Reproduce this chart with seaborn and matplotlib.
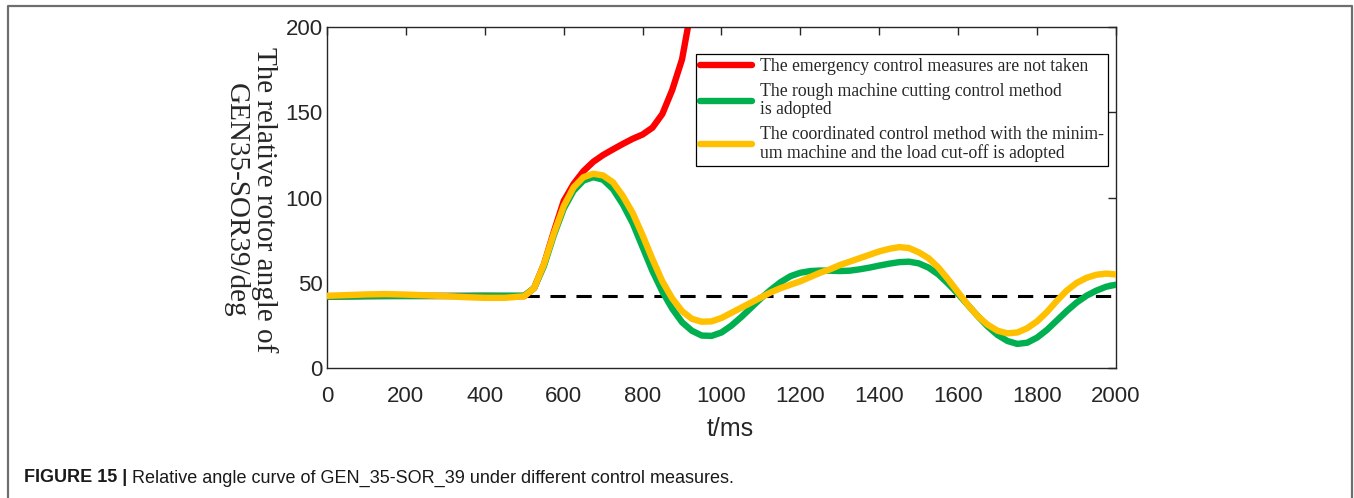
import numpy as np
import pandas as pd
import matplotlib
matplotlib.use("Agg")
import matplotlib.pyplot as plt
import seaborn as sns

# time axis (ms) for the two controlled cases
t = [0, 50, 100, 150, 200, 250, 300, 350, 400, 450, 500,
     525, 550, 575, 600, 625, 650, 675, 700, 725, 750, 775, 800, 825, 850, 875,
     900, 925, 950, 975, 1000, 1025, 1050, 1075, 1100, 1125, 1150, 1175, 1200,
     1225, 1250, 1275, 1300, 1325, 1350, 1375, 1400, 1425, 1450, 1475, 1500,
     1525, 1550, 1575, 1600, 1625, 1650, 1675, 1700, 1725, 1750, 1775, 1800,
     1825, 1850, 1875, 1900, 1925, 1950, 1975, 2000]

green = [42.0, 42.1, 42.3, 42.4, 42.4, 42.4, 42.4, 42.4, 42.5, 42.5, 42.6,
         47, 60, 78, 93.5, 104, 110, 112, 110.5, 105, 96, 85, 71, 57, 45, 35,
         27, 22, 19.2, 19, 21, 25, 30, 35.5, 41, 46, 50.5, 54, 56,
         57, 57.3, 57.2, 57, 57.2, 58, 59, 60.2, 61.3, 62.2, 62.5, 61.5,
         59, 55, 49.5, 43.5, 37, 30.5, 24.5, 19.5, 16, 14.3, 15, 18,
         22.5, 28, 33.5, 38.5, 42.5, 45.5, 47.8, 49]

yellow = [42.5, 42.9, 43.3, 43.5, 43.2, 42.8, 42.3, 41.7, 41.3, 41.3, 42.2,
          47, 61, 79, 95, 106, 112, 114, 113, 109, 101, 91, 78, 64, 51, 41,
          33.5, 29, 27.3, 27.5, 29.5, 32.5, 35.5, 38.5, 41.5, 44.5, 47, 49, 51,
          53.5, 56, 58, 60.5, 62.5, 64.5, 66.5, 68.5, 70, 71, 70.5, 68,
          64.5, 59, 52, 44.5, 37, 30.5, 25.5, 22, 20.5, 21, 23.5, 27.5,
          33, 39.5, 45.5, 50, 53, 54.8, 55.5, 55]

# uncontrolled case, runs off the top of the axes
t_red = [0, 100, 200, 300, 400, 500, 525, 550, 575, 600, 625, 650, 675, 700,
         725, 750, 775, 800, 825, 850, 875, 900, 915]
red = [42.0, 42.3, 42.4, 42.4, 42.5, 42.3, 47, 61, 80, 98, 108, 115.5, 121, 125,
       128.3, 131.5, 134.5, 137, 141, 149, 163, 181, 200]

ref_t = [500, 2000]
ref_angle = [42.4, 42.4]

labels = [
    "The emergency control measures are not taken",
    "The rough machine cutting control method\nis adopted",
    "The coordinated control method with the minim-\num machine and the load cut-off is adopted",
]
colors = ["#FF0000", "#00B050", "#FFC000"]

df = pd.concat([
    pd.DataFrame({"t": t_red, "angle": red, "case": labels[0]}),
    pd.DataFrame({"t": t, "angle": green, "case": labels[1]}),
    pd.DataFrame({"t": t, "angle": yellow, "case": labels[2]}),
])

sns.set_style("white")
plt.rcParams["font.family"] = ["Liberation Sans", "DejaVu Sans"]

fig = plt.figure(figsize=(13.54, 4.98), dpi=100)
ax = fig.add_axes([0.2415, 0.2604, 0.5827, 0.6854])

sns.lineplot(data=df, x="t", y="angle", hue="case", palette=dict(zip(labels, colors)),
             linewidth=4.6, sort=False, estimator=None, ax=ax, legend=False)
for ln, z in zip(ax.lines, [2, 3, 4]):
    ln.set_solid_capstyle("round")
    ln.set_solid_joinstyle("round")
    ln.set_zorder(z)
ax.plot(ref_t, ref_angle, color="black", linestyle=(0, (5, 3.5)), linewidth=2.2, zorder=1)

ax.set_xlim(0, 2000)
ax.set_ylim(0, 200)
ax.set_xticks(range(0, 2001, 200))
ax.set_yticks([0, 50, 100, 150, 200])
ax.tick_params(direction="in", top=True, right=True, length=6, width=1,
               labelsize=16, colors="#262626", labelcolor="#262626")
ax.tick_params(axis="x", pad=13)
ax.tick_params(axis="y", pad=3)
for sp in ax.spines.values():
    sp.set_color("#262626")
    sp.set_linewidth(1)
ax.set_xlabel("")
ax.set_ylabel("")

fig.text(0.539, 1 - 429 / 498, "t/ms", fontsize=18, ha="center", va="center", color="#262626")
fig.text(250 / 1354, 1 - 200 / 498, "The relative rotor angle of\nGEN35-SOR39/deg",
         rotation=270, ha="center", va="center", multialignment="center",
         fontsize=21, family="Liberation Serif", linespacing=1.1)

handles = [plt.Line2D([], [], color=c, linewidth=4.6, solid_capstyle="round") for c in colors]
leg = ax.legend(handles, labels, loc="upper left", bbox_to_anchor=(0.4677, 0.920),
                borderaxespad=0, frameon=True, fancybox=False, framealpha=1,
                edgecolor="black", prop={"family": "Liberation Serif", "size": 12.7},
                handlelength=3.0, handletextpad=0.45, labelspacing=0.45, borderpad=0.2)
leg.get_frame().set_linewidth(0.9)
for txt in leg.get_texts():
    txt.set_linespacing(1.1)

# outer frame of the figure panel
fig.add_artist(plt.Line2D([8 / 1354, 8 / 1354, 1352 / 1354, 1352 / 1354],
                          [0, 1 - 6.5 / 498, 1 - 6.5 / 498, 0], color="#6e6e6e", linewidth=1.6))

# caption
cap1 = fig.text(24 / 1354, 1 - 478 / 498, "FIGURE 15 |", fontsize=13, weight="bold",
                va="center", ha="left", color="#1a1a1a")
fig.canvas.draw()
bb = cap1.get_window_extent()
fig.text((bb.x1 + 5) / 1354, 1 - 478 / 498,
         "Relative angle curve of GEN_35-SOR_39 under different control measures.",
         fontsize=13, va="center", ha="left", color="#1a1a1a")

fig.savefig("out.png", dpi=100)
